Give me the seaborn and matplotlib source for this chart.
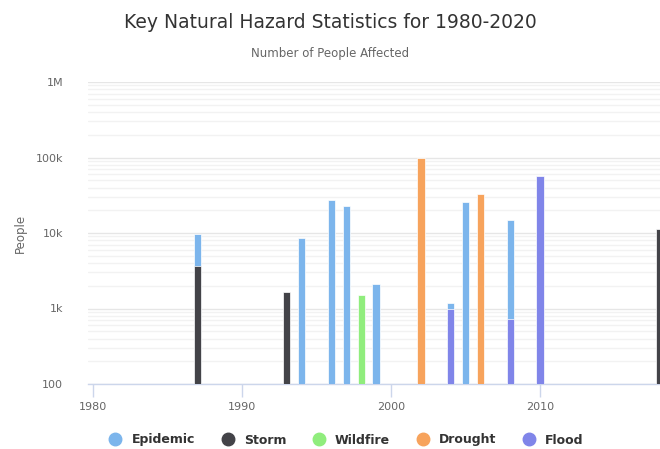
import matplotlib
matplotlib.use("Agg")
import matplotlib.pyplot as plt
import seaborn as sns
import pandas as pd
from matplotlib.lines import Line2D
from matplotlib.ticker import FixedLocator, FuncFormatter, LogLocator, NullFormatter

# data (people affected, per year)
epidemic_years = [1987, 1994, 1996, 1997, 1999, 2004, 2005, 2008]
epidemic_people = [9800, 8600, 27000, 22600, 2140, 1180, 25500, 14700]
storm_years = [1987, 1993, 2018]
storm_people = [3700, 1670, 11300]
wildfire_years = [1998]
wildfire_people = [1500]
drought_years = [2002, 2006]
drought_people = [98000, 32600]
flood_years = [2004, 2008, 2010]
flood_people = [970, 730, 57000]

hazards = ["Epidemic", "Storm", "Wildfire", "Drought", "Flood"]
colors = {"Epidemic": "#7cb5ec", "Storm": "#434348", "Wildfire": "#90ed7d",
          "Drought": "#f7a35c", "Flood": "#8085e9"}

frames = []
for name, yrs, vals in [("Epidemic", epidemic_years, epidemic_people),
                        ("Storm", storm_years, storm_people),
                        ("Wildfire", wildfire_years, wildfire_people),
                        ("Drought", drought_years, drought_people),
                        ("Flood", flood_years, flood_people)]:
    frames.append(pd.DataFrame({"Year": yrs, "People": vals, "Hazard": name}))
df = pd.concat(frames, ignore_index=True)

sns.set_style("white")
plt.rcParams['font.family'] = ['DejaVu Sans']

fig = plt.figure(figsize=(6.6, 4.49), dpi=100)
ax = fig.add_axes([88 / 660, 1 - 384 / 449, 1 - 88 / 660, (384 - 82) / 449])
ax.set_yscale("log")

sns.barplot(data=df, x="Year", y="People", hue="Hazard", hue_order=hazards,
            palette=colors, saturation=1, native_scale=True, dodge=False, width=0.5,
            errorbar=None, legend=False, ax=ax, zorder=3,
            edgecolor="white", linewidth=0.5)

ax.set_ylim(100, 1e6)
ax.set_xlim(1979.66, 2018.05)

# log grid lines like the reference
ax.yaxis.set_major_locator(FixedLocator([1e2, 1e3, 1e4, 1e5, 1e6]))
ax.yaxis.set_minor_locator(LogLocator(base=10, subs=range(2, 10)))
ax.yaxis.set_minor_formatter(NullFormatter())
labels = {100: "100", 1000: "1k", 10000: "10k", 100000: "100k", 1000000: "1M"}
ax.yaxis.set_major_formatter(FuncFormatter(lambda v, p: labels.get(int(round(v)), "")))
ax.grid(which="major", axis="y", color="#e6e6e6", linewidth=1, zorder=0)
ax.grid(which="minor", axis="y", color="#f2f2f2", linewidth=1, zorder=0)
ax.set_axisbelow(True)

ax.set_xticks([1980, 1990, 2000, 2010])
ax.tick_params(axis="x", bottom=True, length=9, width=1, color="#ccd6eb", labelsize=8,
               labelcolor="#666666", pad=4, direction="out")
ax.tick_params(axis="y", which="both", left=False, length=0, labelsize=8,
               labelcolor="#666666", pad=18)

for side in ["top", "right", "left"]:
    ax.spines[side].set_visible(False)
ax.spines["bottom"].set_color("#ccd6eb")
ax.spines["bottom"].set_linewidth(1)

ax.set_xlabel("")
ax.set_ylabel("People", fontsize=8.5, color="#666666", labelpad=6)

fig.text(0.5, 1 - 22 / 449, "Key Natural Hazard Statistics for 1980-2020",
         ha="center", va="center", fontsize=13.5, color="#333333")
fig.text(0.5, 1 - 53 / 449, "Number of People Affected",
         ha="center", va="center", fontsize=8.5, color="#666666")

handles = [Line2D([], [], marker="o", linestyle="", markersize=9,
                  markerfacecolor=colors[h], markeredgecolor=colors[h]) for h in hazards]
leg = fig.legend(handles, hazards, loc="center", bbox_to_anchor=(0.52, 1 - 440 / 449),
                 ncol=5, frameon=False, handletextpad=0.3, columnspacing=1.6,
                 prop={"size": 9, "weight": "bold"})
for t in leg.get_texts():
    t.set_color("#333333")

fig.savefig("out.png", dpi=100)
